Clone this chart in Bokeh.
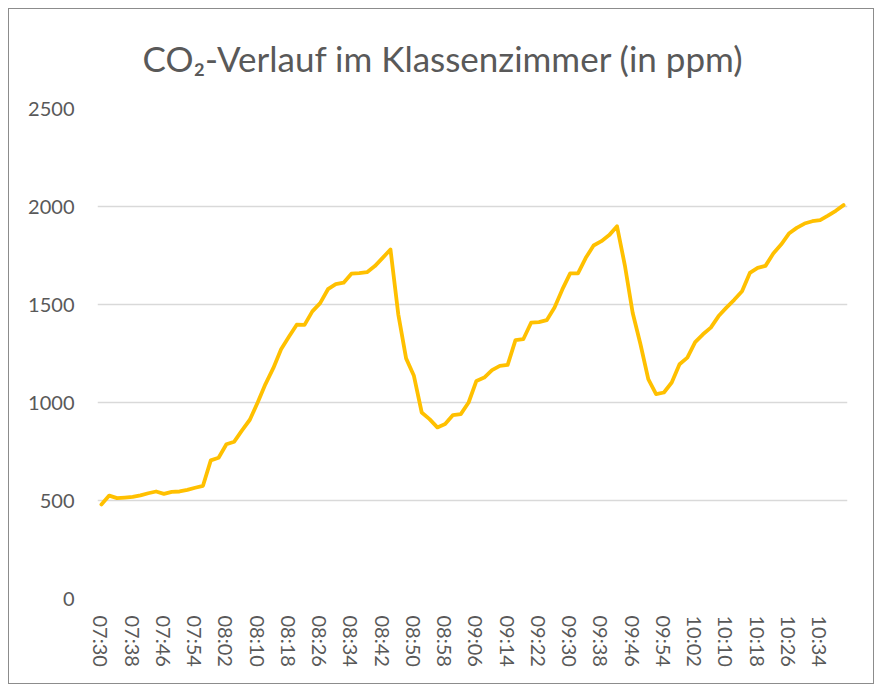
"""CO2 trend in a classroom: one reading every two minutes, drawn Excel-style."""

from bokeh.embed import file_html
from bokeh.models import ColumnDataSource, FixedTicker, Range1d
from bokeh.plotting import figure
from bokeh.resources import INLINE

TITLE = "CO₂-Verlauf im Klassenzimmer (in ppm)"

# readings every two minutes, 07:30 .. 10:40
TIMES = [f"{m // 60:02d}:{m % 60:02d}" for m in range(7 * 60 + 30, 10 * 60 + 41, 2)]

CO2_PPM = [
    480, 525, 512, 515, 518, 526, 537, 546, 534, 544,
    546, 554, 565, 575, 705, 718, 787, 800, 858, 912,
    1000, 1094, 1175, 1272, 1335, 1397, 1396, 1465, 1507, 1578,
    1604, 1611, 1657, 1660, 1665, 1696, 1738, 1781, 1450, 1225,
    1136, 949, 915, 873, 890, 936, 941, 1000, 1110, 1127,
    1165, 1187, 1192, 1318, 1323, 1407, 1410, 1420, 1485, 1577,
    1659, 1659, 1738, 1801, 1823, 1854, 1899, 1700, 1458, 1297,
    1119, 1043, 1051, 1102, 1195, 1229, 1308, 1348, 1382, 1441,
    1484, 1524, 1568, 1661, 1687, 1697, 1760, 1806, 1862, 1891,
    1913, 1925, 1930, 1953, 1978, 2007,
]

Y_TICKS = [0, 500, 1000, 1500, 2000, 2500]
LABEL_EVERY = 4  # only every 4th time gets a tick label

FONT = "Lato"
TEXT_COLOR = "#595959"
GRID_COLOR = "#d9d9d9"
LINE_COLOR = "#ffc000"

idx = list(range(len(TIMES)))
source = ColumnDataSource(data=dict(i=idx, t=TIMES, ppm=CO2_PPM))

p = figure(
    width=866,
    height=676,
    output_backend="svg",
    toolbar_location=None,
    tools="",
    title=TITLE,
    x_range=Range1d(-0.5, len(TIMES) - 0.5),
    y_range=Range1d(Y_TICKS[0], Y_TICKS[-1]),
    min_border_left=88,
    min_border_right=28,
    min_border_top=98,
    min_border_bottom=87,
)
p.styles = {"margin": "8px 0 0 8px", "border": "1px solid #8c8c8c"}
p.outline_line_color = None
p.background_fill_color = "white"
p.border_fill_color = "white"

p.title.text_font = FONT
p.title.text_font_size = "35px"
p.title.text_font_style = "normal"
p.title.text_color = TEXT_COLOR
p.title.align = "left"
p.title.offset = 45
p.title.vertical_align = "top"
p.title.standoff = 55

p.line("i", "ppm", source=source, color=LINE_COLOR, line_width=3.8,
       line_join="round", line_cap="round")

# x axis: category index with time labels
ticks = idx[::LABEL_EVERY]
p.xaxis.ticker = FixedTicker(ticks=ticks)
p.xaxis.major_label_overrides = {i: TIMES[i] for i in ticks}
p.xaxis.major_label_orientation = "vertical"
p.xaxis.major_label_standoff = 11

p.yaxis.ticker = FixedTicker(ticks=Y_TICKS)
p.yaxis.major_label_standoff = 17

for ax in (p.xaxis, p.yaxis):
    ax.axis_line_color = None
    ax.major_tick_line_color = None
    ax.minor_tick_line_color = None
    ax.major_label_text_font = FONT
    ax.major_label_text_font_size = "20px"
    ax.major_label_text_color = TEXT_COLOR

p.xgrid.grid_line_color = None
p.ygrid.grid_line_color = GRID_COLOR
p.ygrid.grid_line_width = 1.3

open("out.html", "w").write(file_html(p, INLINE))
